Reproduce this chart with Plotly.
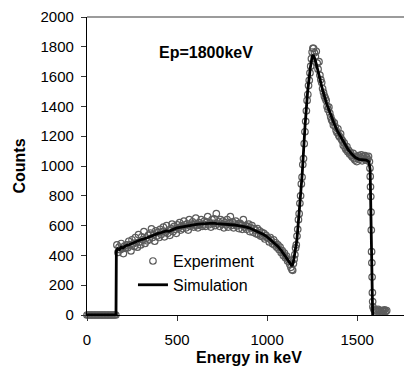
import plotly.graph_objects as go

# ---- Simulation (line) ----
sim_energy = [0, 161, 163, 170, 180, 190, 200, 215, 230, 245,
              260, 275, 290, 305, 320, 335, 350, 365, 380, 395,
              410, 425, 440, 455, 470, 485, 500, 520, 540, 560,
              580, 600, 620, 640, 660, 680, 700, 720, 740, 760,
              780, 800, 820, 840, 860, 880, 900, 920, 940, 960,
              980, 1000, 1020, 1040, 1060, 1080, 1100, 1115, 1130, 1138,
              1145, 1155, 1165, 1180, 1195, 1210, 1225, 1240, 1250, 1256,
              1265, 1280, 1295, 1310, 1330, 1350, 1370, 1390, 1410, 1430,
              1450, 1470, 1490, 1510, 1530, 1550, 1565, 1572, 1586]
sim_counts = [0, 0, 430, 445, 440, 455, 450, 465, 470, 478,
              485, 495, 500, 508, 512, 520, 528, 535, 540, 548,
              552, 560, 565, 562, 572, 578, 585, 590, 595, 600,
              603, 606, 610, 612, 614, 612, 616, 613, 612, 610,
              608, 606, 604, 600, 597, 592, 585, 575, 565, 553,
              540, 525, 505, 483, 460, 430, 395, 365, 338, 330,
              350, 420, 500, 720, 950, 1260, 1500, 1660, 1735, 1745,
              1720, 1650, 1570, 1500, 1420, 1350, 1290, 1235, 1190, 1145,
              1110, 1080, 1057, 1045, 1040, 1040, 1030, 975, 0]

# ---- Experiment (open circles) ----
exp_energy = [0, 8, 16, 24, 32, 40, 48, 56, 64, 72, 80, 88, 96, 104, 112, 120, 128, 136, 144, 152, 160,
              166, 172, 178, 184, 190, 196, 202, 208, 214, 220,
              226, 232, 238, 244, 250, 256, 262, 268, 274, 280,
              286, 292, 298, 304, 310, 316, 322, 328, 334, 340,
              346, 352, 358, 364, 370, 376, 382, 388, 394, 400,
              406, 412, 418, 424, 430, 436, 442, 448, 454, 460,
              466, 472, 478, 484, 490, 496, 502, 508, 514, 520,
              526, 532, 538, 544, 550, 556, 562, 568, 574, 580,
              586, 592, 598, 604, 610, 616, 622, 628, 634, 640,
              646, 652, 658, 664, 670, 676, 682, 688, 694, 700,
              706, 712, 718, 724, 730, 736, 742, 748, 754, 760,
              766, 772, 778, 784, 790, 796, 802, 808, 814, 820,
              826, 832, 838, 844, 850, 856, 862, 868, 874, 880,
              886, 892, 898, 904, 910, 916, 922, 928, 934, 940,
              946, 952, 958, 964, 970, 976, 982, 988, 994, 1000,
              1006, 1012, 1018, 1024, 1030, 1036, 1042, 1048, 1054, 1060,
              1066, 1072, 1078, 1084, 1090, 1096, 1102, 1108, 1114, 1120,
              1126, 1132, 1138,
              1142, 1146, 1150, 1154, 1158, 1162, 1166, 1170, 1174, 1178,
              1182, 1186, 1190, 1194, 1198, 1202, 1206, 1210, 1214, 1218,
              1222, 1226, 1230, 1234, 1238, 1242, 1246, 1250, 1254,
              1258, 1263, 1268, 1273, 1278, 1283, 1288, 1293, 1298, 1303,
              1308, 1313, 1318, 1323, 1328, 1333, 1338, 1343, 1348, 1353,
              1358, 1363, 1368, 1373, 1378, 1383, 1388, 1393, 1398, 1403,
              1408, 1413, 1418, 1423, 1428, 1433, 1438, 1443, 1448, 1453,
              1458, 1463, 1468, 1473, 1478, 1483, 1488, 1493, 1498, 1503,
              1508, 1513, 1518, 1523, 1528, 1533, 1538, 1543, 1548, 1553,
              1558, 1563, 1568,
              1571, 1572.5, 1574, 1575.5, 1577, 1578.5, 1580, 1581.5, 1583, 1584.5, 1586, 1587.5,
              1592, 1598, 1604, 1610, 1616, 1622, 1628, 1634, 1640, 1646, 1652, 1658, 1664]
exp_counts = [0, 0, 0, 0, 0, 0, 0, 0, 0, 0, 0, 0, 0, 0, 0, 0, 0, 0, 0, 0, 0,
              470, 420, 455, 438, 480, 445, 412, 462, 448, 470,
              452, 495, 470, 430, 505, 478, 460, 520, 485, 455,
              540, 490, 470, 525, 505, 560, 480, 515, 498, 535,
              505, 550, 578, 520, 540, 495, 565, 530, 555, 520,
              575, 540, 560, 590, 525, 555, 600, 548, 570, 535,
              580, 610, 560, 595, 575, 548, 605, 585, 620, 570,
              598, 580, 630, 605, 585, 612, 570, 640, 595, 610,
              625, 590, 605, 650, 600, 585, 620, 608, 640, 595,
              610, 630, 595, 625, 660, 605, 618, 590, 640, 615,
              645, 600, 680, 612, 625, 595, 640, 610, 630, 585,
              620, 605, 640, 590, 615, 660, 600, 625, 585, 610,
              630, 598, 612, 580, 615, 605, 575, 640, 590, 600,
              575, 595, 610, 560, 585, 600, 555, 580, 570, 545,
              580, 540, 565, 530, 555, 525, 548, 510, 535, 520,
              515, 490, 520, 500, 478, 505, 470, 485, 455, 470,
              440, 455, 420, 432, 400, 415, 385, 395, 362, 370,
              340, 320, 305,
              300, 345, 375, 405, 450, 470, 530, 575, 640, 680,
              750, 800, 880, 925, 1010, 1050, 1150, 1230, 1300, 1370,
              1440, 1480, 1540, 1575, 1625, 1670, 1720, 1765, 1790,
              1790, 1760, 1735, 1770, 1690, 1650, 1700, 1610, 1580, 1560,
              1520, 1495, 1470, 1455, 1440, 1400, 1380, 1395, 1355, 1330,
              1310, 1300, 1275, 1290, 1265, 1240, 1225, 1250, 1205, 1195,
              1215, 1180, 1170, 1140, 1155, 1125, 1110, 1130, 1095, 1105,
              1080, 1090, 1070, 1060, 1085, 1050, 1040, 1065, 1030, 1055,
              1070, 1045, 1060, 1075, 1035, 1065, 1050, 1070, 1040, 1060,
              1045, 1065, 1030,
              985, 930, 860, 795, 690, 570, 425, 350, 255, 150, 90, 55,
              40, 30, 35, 25, 38, 28, 32, 22, 30, 26, 35, 24, 30]

x_ticks = [0, 500, 1000, 1500]
y_ticks = [0, 200, 400, 600, 800, 1000, 1200, 1400, 1600, 1800, 2000]

fig = go.Figure()
fig.add_trace(go.Scatter(
    x=exp_energy, y=exp_counts, mode="markers", name="Experiment",
    marker=dict(symbol="circle-open", size=6.5, color="#5c5c5c",
                line=dict(width=1.2, color="#5c5c5c")),
    cliponaxis=False,
))
fig.add_trace(go.Scatter(
    x=sim_energy, y=sim_counts, mode="lines", name="Simulation",
    line=dict(color="black", width=2.8),
    cliponaxis=False,
))

font_family = "Liberation Sans, Arial, sans-serif"
fig.update_layout(
    width=404, height=367,
    margin=dict(l=87, r=0, t=17, b=52),
    paper_bgcolor="white", plot_bgcolor="white",
    font=dict(family=font_family, size=15, color="black"),
    showlegend=True,
    legend=dict(x=0.145, y=0.238, xanchor="left", yanchor="top",
                bgcolor="rgba(0,0,0,0)", font=dict(size=16),
                itemwidth=30, tracegroupgap=0),
    xaxis=dict(range=[0, 1760], tickvals=x_ticks, ticks="outside", ticklen=5,
               tickcolor="#333", showline=True, linecolor="black", linewidth=1.3,
               showgrid=False, zeroline=False, ticklabelstandoff=6),
    yaxis=dict(range=[0, 2000], tickvals=y_ticks, ticks="outside", ticklen=5,
               tickcolor="#333", showline=True, linecolor="black", linewidth=1.2,
               showgrid=False, zeroline=False, ticklabelstandoff=4,
               title=dict(text="<b>Counts</b>", font=dict(size=16), standoff=10)),
    shapes=[dict(type="line", xref="paper", yref="paper", x0=0, x1=1, y0=1, y1=1,
                 line=dict(color="#7a7a7a", width=1.5))],
    annotations=[
        dict(text="<b>Energy in keV</b>", xref="paper", yref="paper",
             x=0.51, y=-0.141, xanchor="center", yanchor="middle",
             showarrow=False, font=dict(size=16)),
        dict(text="<b>Ep=1800keV</b>", xref="x", yref="y", x=661, y=1765,
             showarrow=False, font=dict(size=16)),
    ],
)

fig.write_html("out.html", config={"displayModeBar": False},
               post_script="document.body.style.margin='0px';document.body.style.overflow='hidden';")
